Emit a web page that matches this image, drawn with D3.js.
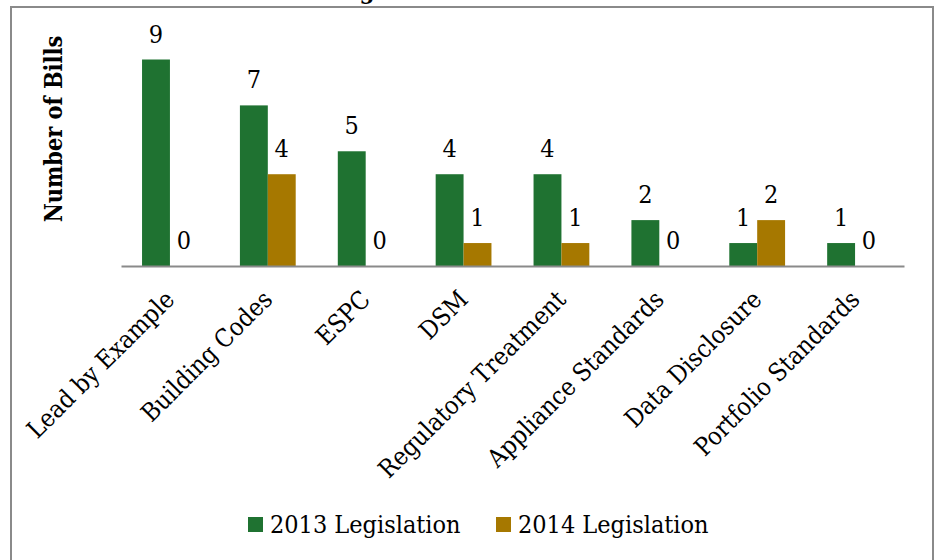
<!DOCTYPE html>
<html>
<head>
<meta charset="utf-8">
<script src="https://cdn.jsdelivr.net/npm/d3@7"></script>
<style>
  html, body { margin: 0; padding: 0; background: #fff; }
  svg { display: block; }
</style>
</head>
<body>
<svg id="chart" width="936" height="560"></svg>
<script>
const categories = ["Lead by Example", "Building Codes", "ESPC", "DSM", "Regulatory Treatment", "Appliance Standards", "Data Disclosure", "Portfolio Standards"];
const seriesNames = ["2013 Legislation", "2014 Legislation"];
const values2013 = [9, 7, 5, 4, 4, 2, 1, 1];
const values2014 = [0, 4, 0, 1, 1, 0, 2, 0];
const colors = ["#1f7231", "#a67800"];
const yAxisTitle = "Number of Bills";
const chartTitle = "Legislation Introduced";

const svg = d3.select("#chart");
const FONT = "'DejaVu Serif Condensed', 'DejaVu Serif', serif";
const fs = 25;

// frame
svg.append("rect").attr("x", 11).attr("y", 7).attr("width", 922).attr("height", 600)
  .attr("fill", "none").attr("stroke", "#8a8a8a").attr("stroke-width", 2);

// title (clipped at top)
const t = svg.append("text").attr("y", -1).attr("font-family", FONT).attr("font-weight", "bold")
  .attr("font-size", 24).attr("fill", "#000").text(chartTitle);
{
  const n = t.node();
  const gi = chartTitle.indexOf("g");
  const off = n.getSubStringLength(0, gi) + n.getSubStringLength(gi, 1) / 2;
  t.attr("x", 367 - off);
}

const x0 = d3.scaleBand().domain(categories).range([121, 904]).paddingInner(0.43).paddingOuter(0.215);
const x1 = d3.scaleBand().domain(seriesNames).range([0, x0.bandwidth()]);
const y = d3.scaleLinear().domain([0, 9]).range([266, 59.5]);

const rows = categories.map((c, i) => ({ c, v: [values2013[i], values2014[i]] }));

const g = svg.append("g");
const groups = g.selectAll("g.cat").data(rows).join("g").attr("class", "cat")
  .attr("transform", d => `translate(${x0(d.c)},0)`);

groups.selectAll("rect").data(d => d.v.map((v, k) => ({ v, k }))).join("rect")
  .attr("x", d => x1(seriesNames[d.k]))
  .attr("width", x1.bandwidth())
  .attr("y", d => y(d.v))
  .attr("height", d => y(0) - y(d.v))
  .attr("fill", d => colors[d.k]);

groups.selectAll("text.val").data(d => d.v.map((v, k) => ({ v, k }))).join("text")
  .attr("class", "val")
  .attr("x", d => x1(seriesNames[d.k]) + x1.bandwidth() / 2)
  .attr("y", d => y(d.v) - 17)
  .attr("text-anchor", "middle")
  .attr("font-family", FONT).attr("font-size", fs).attr("fill", "#000")
  .text(d => d.v);

// x axis
const xAxis = d3.axisBottom(x0).tickSize(0).tickPadding(0);
const ax = svg.append("g").attr("transform", "translate(0,266)").call(xAxis);
ax.select(".domain").attr("stroke", "#8a8a8a").attr("stroke-width", 2);
ax.selectAll(".tick text")
  .attr("font-family", FONT).attr("font-size", fs).attr("fill", "#000")
  .attr("text-anchor", "end")
  .attr("dy", null).attr("y", 0)
  .attr("transform", "translate(6,35) rotate(-45)");

// y axis title
svg.append("text")
  .attr("transform", "translate(62,129) rotate(-90)")
  .attr("text-anchor", "middle")
  .attr("font-family", FONT).attr("font-weight", "bold").attr("font-size", 23.3)
  .attr("fill", "#000").text(yAxisTitle);

// legend
const legendX = [248, 496];
const leg = svg.append("g").selectAll("g").data(seriesNames).join("g")
  .attr("transform", (d, i) => `translate(${legendX[i]},0)`);
leg.append("rect").attr("x", 0).attr("y", 517).attr("width", 15).attr("height", 15)
  .attr("fill", (d, i) => colors[i]);
leg.append("text").attr("x", 22).attr("y", 532.5)
  .attr("font-family", FONT).attr("font-size", fs).attr("fill", "#000").text(d => d);
</script>
</body>
</html>
